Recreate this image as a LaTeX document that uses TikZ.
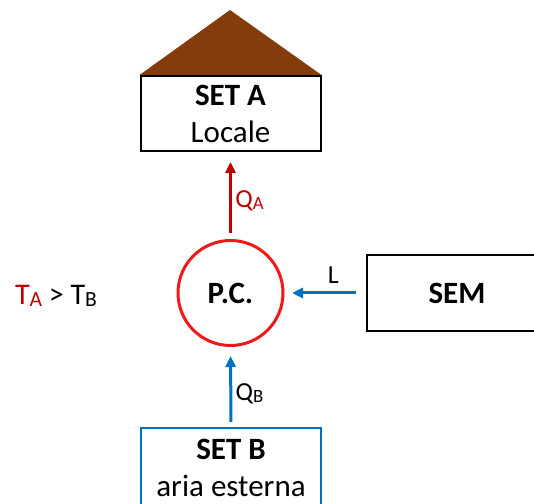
\documentclass[tikz,border=0pt]{standalone}
\usepackage{fontspec}
\usepackage{graphicx}
\setmainfont{Carlito}
\usetikzlibrary{arrows.meta}

\definecolor{roofbrown}{HTML}{843C0C}
\definecolor{heatred}{HTML}{C00000}
\definecolor{pcred}{HTML}{F01818}
\definecolor{workblue}{HTML}{0070C0}

\newcommand{\lowidx}[1]{\raisebox{-0.08em}{\scalebox{0.72}{#1}}}

\tikzset{
	setbox/.style = {draw, line width = 2pt, minimum width = 180pt, minimum height = 75pt, align = center, inner sep = 0pt, font = \fontsize{31}{37}\selectfont},
	flow/.style = {line width = 3pt, -{Triangle[length = 11pt, width = 10pt]}},
	flowlabel/.style = {font = \fontsize{26}{30}\selectfont}
}

\begin{document}
\begin{tikzpicture}[x = 1pt, y = 1pt]

	\useasboundingbox (0, 0) rectangle (534, 503);

	% Boxes

	\node [setbox] (seta) at (230.5, 389.5) {\textbf{SET A}\\Locale};
	\node [setbox] (sem) at (457, 210) {\textbf{SEM}};
	\node [setbox, draw = workblue, minimum height = 80pt] (setb) at (231, 35) {\textbf{SET B}\\aria esterna};

	% Roof

	\fill [roofbrown] (seta.north west) -- ++(90.5, 65) -- (seta.north east) -- cycle;

	% Heat pump

	\node [circle, draw = pcred, line width = 3pt, minimum size = 105pt, font = \fontsize{31}{34}\selectfont] (pc) at (230.5, 210) {\textbf{P.C.}};

	% Flows

	\draw [flow, heatred, shorten < = 6pt, shorten > = 10pt] (pc.north) -- (seta.south) node [pos = 0.44, right, flowlabel] {Q\lowidx{A}};
	\draw [flow, workblue, shorten < = 10pt, shorten > = 7.5pt] (sem.west) -- (pc.east) node [pos = 0.4, above = 5pt, flowlabel, black] {L};
	\draw [flow, workblue, shorten < = 5pt, shorten > = 9pt] (setb.north) -- (pc.south) node [pos = 0.42, right, flowlabel, black] {Q\lowidx{B}};

	% Temperatures

	\node [font = \fontsize{30}{34}\selectfont] (temps) at (56, 207) {\textcolor{heatred}{T\lowidx{A}} > T\lowidx{B}};

\end{tikzpicture}
\end{document}
